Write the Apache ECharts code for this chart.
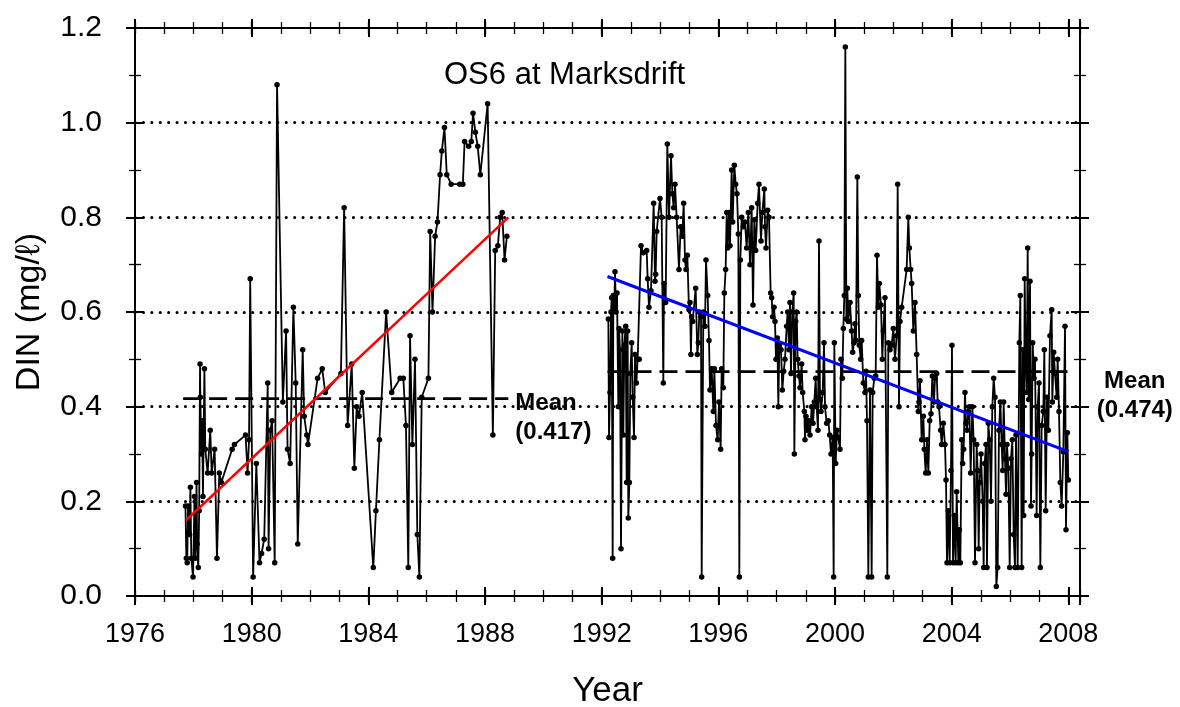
<!DOCTYPE html>
<html><head><meta charset="utf-8">
<script src="https://cdn.jsdelivr.net/npm/echarts@6/dist/echarts.min.js"></script>
<style>html,body{margin:0;padding:0;background:#fff}#c{width:1180px;height:707px}</style>
</head><body><div id="c"></div>
<script>
// ---------- DATA ----------
const seg1a = [[1977.73,0.19],[1977.76,0.08],[1977.79,0.07],[1977.82,0.19],[1977.87,0.13],[1977.90,0.23],[1977.93,0.08],[1977.99,0.04],[1978.04,0.21],[1978.07,0.08],[1978.11,0.24],[1978.13,0.11],[1978.17,0.06],[1978.20,0.18],[1978.23,0.49],[1978.24,0.42],[1978.28,0.30],[1978.30,0.37],[1978.33,0.21],[1978.38,0.48],[1978.41,0.31],[1978.49,0.26],[1978.58,0.35],[1978.63,0.26],[1978.73,0.31],[1978.81,0.08],[1978.89,0.26],[1978.96,0.24],[1979.33,0.31],[1979.41,0.32],[1979.79,0.34],[1979.86,0.26],[1979.91,0.33],[1979.95,0.67],[1980.05,0.04],[1980.16,0.28],[1980.27,0.07],[1980.34,0.09],[1980.43,0.12],[1980.55,0.45],[1980.58,0.10],[1980.64,0.35],[1980.70,0.37],[1980.79,0.07],[1980.87,1.08],[1981.07,0.41],[1981.18,0.56],[1981.23,0.31],[1981.32,0.28],[1981.43,0.61],[1981.51,0.45],[1981.58,0.11],[1981.75,0.52],[1981.80,0.38],[1981.89,0.34],[1981.93,0.32],[1982.26,0.46],[1982.42,0.48],[1982.52,0.43]];
const seg1b = [[1983.06,0.47],[1983.17,0.82],[1983.29,0.36],[1983.43,0.49],[1983.52,0.27],[1983.60,0.40],[1983.68,0.38],[1983.79,0.43],[1984.17,0.06],[1984.26,0.18],[1984.38,0.33],[1984.61,0.60],[1984.80,0.43],[1985.09,0.46],[1985.20,0.46],[1985.29,0.36],[1985.37,0.06],[1985.43,0.55],[1985.51,0.32],[1985.60,0.50],[1985.68,0.13],[1985.75,0.04],[1985.83,0.42],[1986.06,0.46],[1986.12,0.77],[1986.20,0.60],[1986.29,0.76],[1986.37,0.79],[1986.46,0.89],[1986.52,0.94],[1986.61,0.99],[1986.69,0.89],[1986.84,0.87],[1987.13,0.87],[1987.24,0.87],[1987.30,0.96],[1987.44,0.95],[1987.53,0.96],[1987.59,1.02],[1987.67,0.98],[1987.75,0.95],[1987.84,0.89],[1988.09,1.04],[1988.27,0.34],[1988.35,0.73],[1988.44,0.74],[1988.52,0.80],[1988.59,0.81],[1988.67,0.71],[1988.75,0.76]];
const seg2a = [[1992.229,0.585],[1992.251,0.335],[1992.286,0.43],[1992.32,0.60],[1992.343,0.63],[1992.377,0.08],[1992.4,0.635],[1992.434,0.61],[1992.457,0.685],[1992.491,0.60],[1992.526,0.64],[1992.571,0.40],[1992.594,0.565],[1992.629,0.52],[1992.663,0.10],[1992.709,0.56],[1992.743,0.34],[1992.777,0.53],[1992.823,0.57],[1992.857,0.24],[1992.891,0.56],[1992.914,0.165],[1992.949,0.24],[1992.983,0.47],[1993.029,0.535],[1993.063,0.42],[1993.109,0.335],[1993.143,0.51],[1993.189,0.45],[1993.234,0.50],[1993.291,0.50],[1993.349,0.74],[1993.429,0.725],[1993.543,0.73],[1993.577,0.67],[1993.623,0.61],[1993.691,0.645],[1993.783,0.83],[1993.829,0.665],[1993.851,0.68],[1993.886,0.77],[1994.0,0.84],[1994.057,0.80],[1994.114,0.45],[1994.137,0.66],[1994.194,0.62],[1994.251,0.955],[1994.309,0.80],[1994.377,0.93],[1994.423,0.85],[1994.469,0.82],[1994.514,0.87],[1994.571,0.80],[1994.651,0.69],[1994.709,0.78],[1994.766,0.76],[1994.811,0.83],[1994.857,0.71],[1994.891,0.69],[1994.937,0.72],[1994.994,0.605],[1995.029,0.62],[1995.06,0.51],[1995.086,0.59],[1995.12,0.58],[1995.223,0.65],[1995.28,0.51],[1995.314,0.535],[1995.349,0.60],[1995.406,0.59],[1995.429,0.04],[1995.486,0.60],[1995.543,0.57],[1995.577,0.71],[1995.634,0.635],[1995.68,0.54],[1995.714,0.435],[1995.771,0.48],[1995.829,0.39],[1995.863,0.48],[1995.92,0.36],[1995.977,0.33],[1996.023,0.41],[1996.08,0.31],[1996.114,0.48],[1996.171,0.44],[1996.206,0.64],[1996.251,0.69],[1996.286,0.81],[1996.32,0.735],[1996.366,0.81],[1996.4,0.74],[1996.457,0.90],[1996.491,0.79],[1996.549,0.91],[1996.594,0.87],[1996.64,0.85],[1996.686,0.765],[1996.72,0.04],[1996.754,0.71],[1996.8,0.80],[1996.857,0.78],[1996.914,0.79],[1996.971,0.735],[1997.029,0.81],[1997.086,0.70],[1997.143,0.82],[1997.189,0.615],[1997.234,0.795],[1997.28,0.73],[1997.349,0.83],[1997.394,0.87]];
const seg2b = [[1997.463,0.75],[1997.509,0.81],[1997.577,0.86],[1997.6,0.78],[1997.634,0.735],[1997.691,0.815],[1997.737,0.80],[1997.794,0.64],[1997.829,0.63],[1997.863,0.59],[1997.909,0.61],[1997.943,0.58],[1997.977,0.50],[1998.023,0.545],[1998.057,0.40],[1998.091,0.53],[1998.149,0.52],[1998.194,0.435],[1998.24,0.475],[1998.286,0.50],[1998.343,0.57],[1998.377,0.60],[1998.423,0.52],[1998.457,0.62],[1998.491,0.47],[1998.537,0.60],[1998.583,0.64],[1998.606,0.30],[1998.651,0.58],[1998.686,0.60],[1998.72,0.50],[1998.766,0.465],[1998.8,0.44],[1998.857,0.49],[1998.891,0.43],[1998.949,0.39],[1998.971,0.33],[1999.006,0.38],[1999.051,0.35],[1999.086,0.37],[1999.143,0.34],[1999.2,0.40],[1999.246,0.365],[1999.291,0.41],[1999.337,0.46],[1999.371,0.40],[1999.417,0.35],[1999.451,0.75],[1999.486,0.415],[1999.52,0.39],[1999.577,0.43],[1999.623,0.535],[1999.657,0.40],[1999.714,0.365],[1999.771,0.37],[1999.817,0.34],[1999.863,0.30],[1999.92,0.335],[1999.954,0.04],[1999.977,0.535],[2000.023,0.28],[2000.069,0.35],[2000.114,0.335],[2000.171,0.31],[2000.206,0.50],[2000.251,0.46],[2000.286,0.565],[2000.32,0.635],[2000.354,1.16],[2000.389,0.585],[2000.423,0.65],[2000.457,0.58],[2000.514,0.62],[2000.571,0.56],[2000.606,0.515],[2000.651,0.535],[2000.686,0.575],[2000.72,0.54],[2000.766,0.885],[2000.8,0.635],[2000.834,0.53],[2000.88,0.50],[2000.914,0.54],[2000.971,0.45],[2001.029,0.43],[2001.063,0.475],[2001.097,0.37],[2001.143,0.04],[2001.2,0.435],[2001.257,0.04],[2001.291,0.43],[2001.349,0.46],[2001.394,0.465],[2001.44,0.72],[2001.486,0.61],[2001.52,0.66],[2001.577,0.615],[2001.623,0.50],[2001.657,0.56],[2001.714,0.63],[2001.794,0.04],[2001.829,0.535],[2001.886,0.52],[2001.943,0.53],[2002.0,0.565],[2002.057,0.50],[2002.114,0.55],[2002.149,0.87],[2002.194,0.40],[2002.229,0.58],[2002.286,0.61],[2002.457,0.69],[2002.514,0.80],[2002.549,0.735],[2002.594,0.69],[2002.629,0.66],[2002.686,0.56],[2002.743,0.62],[2002.8,0.51],[2002.857,0.39]];
const seg2c = [[2002.88,0.41],[2002.914,0.455],[2002.971,0.33],[2003.029,0.38],[2003.063,0.31],[2003.109,0.26],[2003.154,0.33],[2003.2,0.26],[2003.246,0.37],[2003.291,0.385],[2003.337,0.465],[2003.394,0.41],[2003.429,0.46],[2003.486,0.47],[2003.52,0.41],[2003.566,0.40],[2003.623,0.35],[2003.657,0.32],[2003.714,0.365],[2003.771,0.32],[2003.806,0.245],[2003.84,0.07],[2003.886,0.18],[2003.931,0.07],[2003.977,0.265],[2004.011,0.53],[2004.046,0.07],[2004.091,0.17],[2004.137,0.07],[2004.171,0.22],[2004.229,0.07],[2004.263,0.14],[2004.297,0.07],[2004.343,0.33],[2004.377,0.28],[2004.411,0.31],[2004.457,0.43],[2004.491,0.365],[2004.526,0.35],[2004.571,0.39],[2004.606,0.40],[2004.651,0.26],[2004.709,0.40],[2004.754,0.33],[2004.8,0.07],[2004.857,0.32],[2004.891,0.265],[2004.926,0.10],[2004.96,0.24],[2005.006,0.30],[2005.063,0.20],[2005.097,0.06],[2005.131,0.28],[2005.177,0.32],[2005.211,0.06],[2005.257,0.365],[2005.303,0.33],[2005.349,0.20],[2005.394,0.40],[2005.44,0.46],[2005.486,0.42],[2005.531,0.02],[2005.577,0.06],[2005.623,0.35],[2005.669,0.41],[2005.714,0.32],[2005.749,0.265],[2005.783,0.41],[2005.829,0.29],[2005.863,0.215],[2005.897,0.32],[2005.943,0.27],[2005.989,0.06],[2006.034,0.29],[2006.08,0.33],[2006.126,0.13],[2006.171,0.06],[2006.206,0.34],[2006.263,0.06],[2006.32,0.535],[2006.354,0.635],[2006.4,0.06],[2006.434,0.52],[2006.469,0.17],[2006.503,0.67],[2006.537,0.50],[2006.571,0.43],[2006.606,0.735],[2006.64,0.415],[2006.686,0.665],[2006.72,0.19],[2006.743,0.30],[2006.777,0.535],[2006.823,0.46],[2006.857,0.50],[2006.914,0.17],[2006.949,0.40],[2006.994,0.45],[2007.04,0.06],[2007.086,0.36],[2007.143,0.39],[2007.177,0.52],[2007.223,0.18],[2007.269,0.42],[2007.314,0.35],[2007.371,0.55],[2007.429,0.605],[2007.451,0.41],[2007.497,0.515],[2007.543,0.47],[2007.6,0.42],[2007.634,0.50],[2007.68,0.39],[2007.726,0.24],[2007.771,0.19],[2007.829,0.305],[2007.886,0.57],[2007.92,0.14],[2007.966,0.345],[2008.0,0.245]];

const trendRed = [[1977.75,0.16],[1988.8,0.80]];
const trendBlue = [[1992.2,0.675],[2008.0,0.305]];
const mean1Value = 0.417, mean1Span = [1977.65, 1988.8];
const mean2Value = 0.474, mean2Span = [1992.2, 2008.05];
const mean1Text = 'Mean\n(0.417)';
const mean2Text = 'Mean\n(0.474)';
const titleText = 'OS6 at Marksdrift';
const xName = 'Year', yName = 'DIN (mg/ℓ)';
const xMin = 1976, xMax = 2008.4, xStep = 4;
const yMin = 0, yMax = 1.2, yStep = 0.2;

// ---------- CHART ----------
const F = "'Liberation Sans', Arial, Helvetica, sans-serif";
const BLK = '#000';
function xAx(pos, inside, major, labels) {
  return {
    type: 'value', min: xMin, max: xMax, interval: major ? xStep : 1, position: pos,
    axisLine: { show: true, onZero: false, lineStyle: { color: BLK, width: 2 } },
    axisTick: { show: true, inside: inside, length: major ? 9 : 6, lineStyle: { color: BLK, width: major ? 2 : 1.3 } },
    axisLabel: labels ? { show: true, color: BLK, fontFamily: F, fontSize: 27, margin: 25,
      formatter: v => (Math.abs(v % xStep) < 1e-6 ? String(v) : '') } : { show: false },
    splitLine: { show: false }
  };
}
function yAx(pos, inside, labels, grid) {
  return {
    type: 'value', min: yMin, max: yMax, interval: yStep, position: pos,
    axisLine: { show: true, onZero: false, lineStyle: { color: BLK, width: 2 } },
    axisTick: { show: true, inside: inside, length: 9, lineStyle: { color: BLK, width: 2 } },
    minorTick: { show: true, splitNumber: 2, length: 6, lineStyle: { color: BLK, width: 1.3 } },
    axisLabel: labels ? { show: true, color: BLK, fontFamily: F, fontSize: 30, margin: 33,
      formatter: v => v.toFixed(1) } : { show: false },
    splitLine: grid ? { show: true, showMinLine: false, showMaxLine: false,
      lineStyle: { color: BLK, width: 3, type: [0.1, 8.3], cap: 'round' } } : { show: false }
  };
}
const xAxes = [
  Object.assign(xAx('bottom', false, true, true), { name: xName, nameLocation: 'middle', nameGap: 78,
    nameTextStyle: { fontFamily: F, fontSize: 35, color: BLK } }),
  xAx('bottom', true, true, false), xAx('bottom', false, false, false), xAx('bottom', true, false, false),
  xAx('top', true, true, false), xAx('top', false, true, false), xAx('top', true, false, false), xAx('top', false, false, false)
];
const yAxes = [
  Object.assign(yAx('left', false, true, true), { name: yName, nameLocation: 'middle', nameGap: 88,
    nameTextStyle: { fontFamily: F, fontSize: 34, color: BLK } }),
  yAx('left', true, false, false), yAx('right', true, false, false), yAx('right', false, false, false)
];

const dataStyle = {
  type: 'line', xAxisIndex: 0, yAxisIndex: 0, symbol: 'circle', symbolSize: 5.5, showSymbol: true,
  lineStyle: { color: BLK, width: 1.8 }, itemStyle: { color: BLK }, z: 3, silent: true
};
const meanLabel = (txt, align, off) => ({
  show: true, formatter: txt, color: BLK, fontFamily: F, fontWeight: 'bold', fontSize: 24,
  lineHeight: 29, align: align, distance: 0, offset: off
});

const option = {
  animation: false,
  backgroundColor: '#fff',
  title: { text: titleText, left: 444, top: 60, padding: 0,
    textStyle: { fontFamily: F, fontSize: 31, fontWeight: 'normal', color: BLK } },
  grid: { left: 135, right: 100, top: 28, bottom: 111, containLabel: false, outerBoundsMode: 'none' },
  xAxis: xAxes,
  yAxis: yAxes,
  series: [
    Object.assign({}, dataStyle, { data: seg1a.concat(seg1b) }),
    Object.assign({}, dataStyle, { data: seg2a.concat(seg2b, seg2c) }),
    { type: 'line', symbol: 'none', z: 4, silent: true,
      data: mean1Span.map(x => [x, mean1Value]),
      lineStyle: { color: BLK, width: 2.8, type: [18, 8] },
      endLabel: meanLabel(mean1Text, 'left', [7, 19]) },
    { type: 'line', symbol: 'none', z: 4, silent: true,
      data: mean2Span.map(x => [x, mean2Value]),
      lineStyle: { color: BLK, width: 2.8, type: [18, 8] },
      endLabel: meanLabel(mean2Text, 'center', [65, 24]) },
    { type: 'line', symbol: 'none', z: 5, silent: true, data: trendRed,
      lineStyle: { color: '#ff0000', width: 2.5 } },
    { type: 'line', symbol: 'none', z: 5, silent: true, data: trendBlue,
      lineStyle: { color: '#0000ff', width: 3 } }
  ]
};
const chart = echarts.init(document.getElementById('c'), null, { renderer: 'canvas' });
chart.setOption(option);
</script></body></html>
